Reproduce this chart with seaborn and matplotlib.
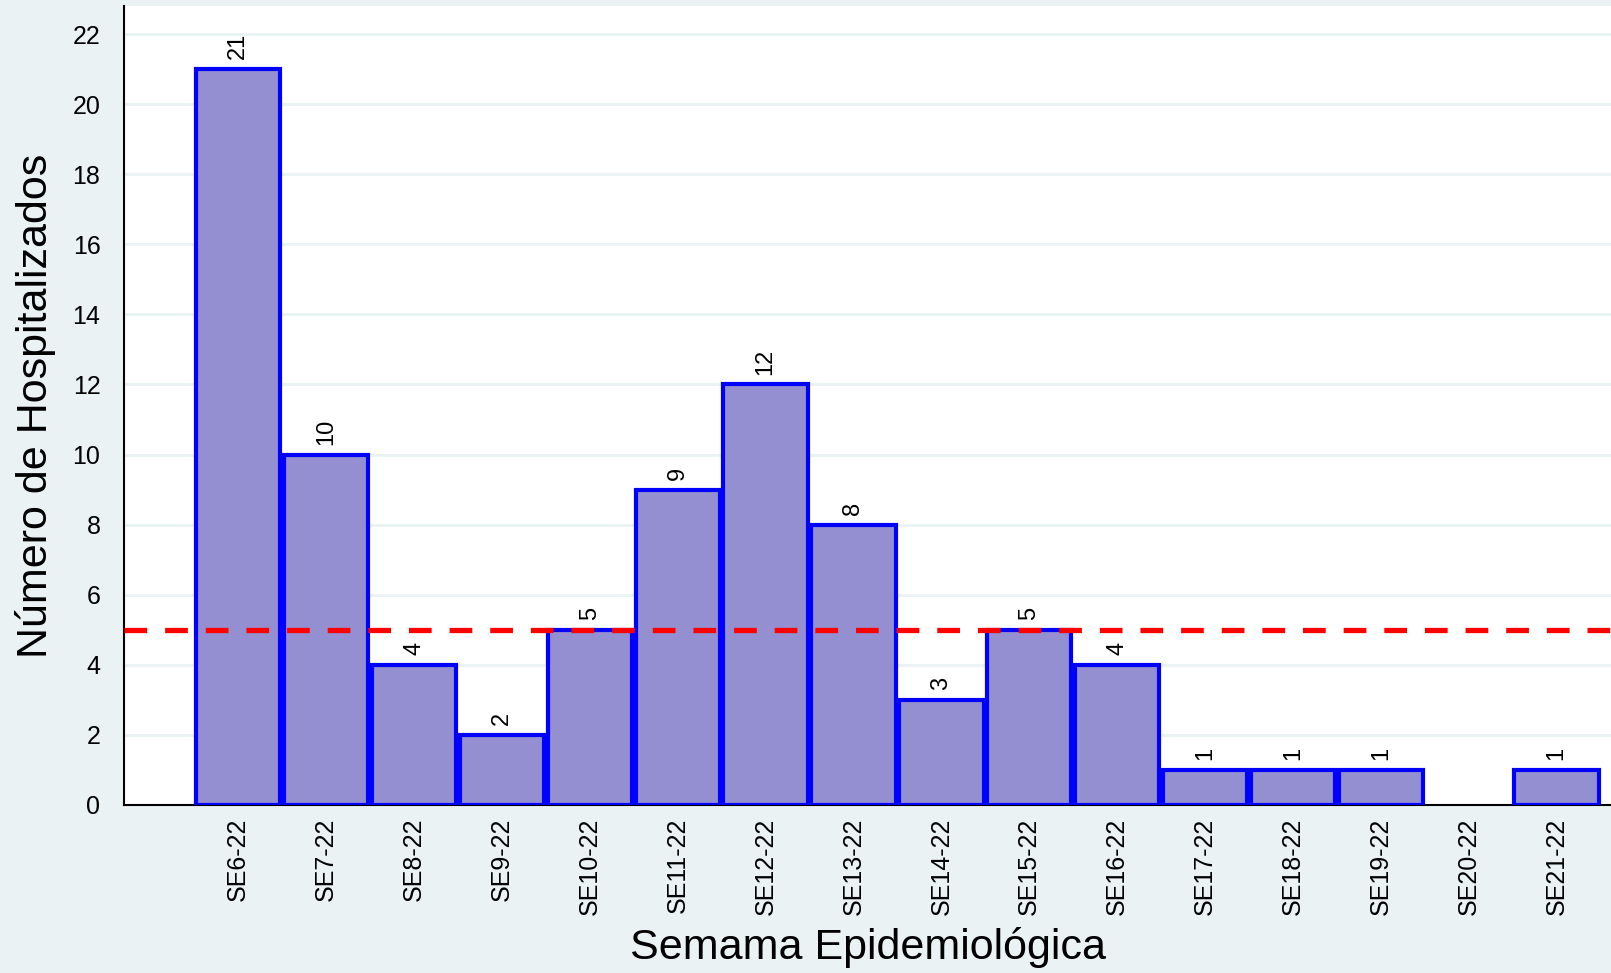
import pandas as pd
import matplotlib
matplotlib.use('Agg')
import matplotlib.pyplot as plt
import seaborn as sns

weeks = ['SE6-22', 'SE7-22', 'SE8-22', 'SE9-22', 'SE10-22', 'SE11-22', 'SE12-22', 'SE13-22',
         'SE14-22', 'SE15-22', 'SE16-22', 'SE17-22', 'SE18-22', 'SE19-22', 'SE20-22', 'SE21-22']
hospitalized = [21, 10, 4, 2, 5, 9, 12, 8, 3, 5, 4, 1, 1, 1, 0, 1]
threshold = 5
yticks = list(range(0, 23, 2))

bg = '#EAF2F3'
sns.set_style('white')
plt.rcParams['font.family'] = ['Liberation Sans', 'DejaVu Sans']
plt.rcParams['text.color'] = 'black'
plt.rcParams['axes.labelcolor'] = 'black'
plt.rcParams['xtick.color'] = 'black'
plt.rcParams['ytick.color'] = 'black'

df = pd.DataFrame({'Semana': weeks, 'Hospitalizados': hospitalized})

fig = plt.figure(figsize=(16.11, 9.73), dpi=100, facecolor=bg)
ax = fig.add_axes([0.077, 0.1727, 0.923, 0.8211])
ax.set_facecolor('white')

sns.barplot(data=df, x='Semana', y='Hospitalizados', order=weeks, color='#948FD0',
            saturation=1, edgecolor='#0000FF', linewidth=3, width=0.96, ax=ax, zorder=3)

# empty weeks: no outline on the axis
for p in ax.patches:
    if p.get_height() == 0:
        p.set_linewidth(0)

for i, v in enumerate(hospitalized):
    if v > 0:
        ax.annotate(str(v), (i, v), xytext=(0, 7), textcoords='offset points',
                    rotation=90, ha='center', va='bottom', fontsize=17)

ax.axhline(threshold, color='#FF0000', linewidth=3.8, dashes=(4.3, 3.4), zorder=4)

ax.set_xlim(-1.3, len(weeks) - 0.38)
ax.set_ylim(0, 22.8)
ax.set_yticks(yticks)
ax.yaxis.grid(True, color=bg, linewidth=2.2)
ax.set_axisbelow(True)

ax.tick_params(axis='y', labelsize=18, length=12, width=1.5, pad=5, labelrotation=0)
ax.tick_params(axis='x', labelsize=18, length=0, pad=9, labelrotation=90)

for s in ['top', 'right']:
    ax.spines[s].set_visible(False)
for s in ['left', 'bottom']:
    ax.spines[s].set_color('black')
    ax.spines[s].set_linewidth(1.5)

ax.set_xlabel('Semama Epidemiológica', fontsize=31, labelpad=9)
ax.set_ylabel('Número de Hospitalizados', fontsize=31, labelpad=12)

fig.savefig('out.png', dpi=100, facecolor=bg)
